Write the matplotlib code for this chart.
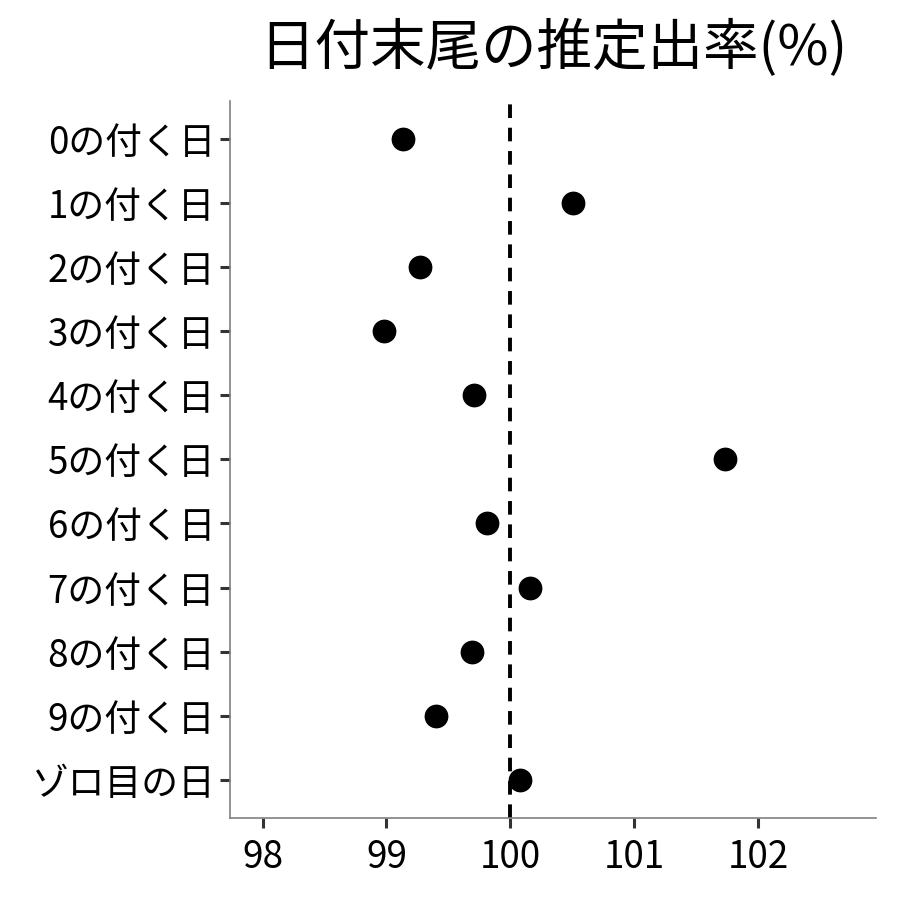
import matplotlib
matplotlib.use("Agg")
import matplotlib.pyplot as plt

plt.rcParams['font.family'] = ['Noto Sans CJK JP', 'DejaVu Sans']

# カテゴリと推定出率
categories = ['0の付く日', '1の付く日', '2の付く日', '3の付く日', '4の付く日',
              '5の付く日', '6の付く日', '7の付く日', '8の付く日', '9の付く日',
              'ゾロ目の日']
rates = [99.13, 100.51, 99.27, 98.98, 99.71, 101.73, 99.81, 100.16, 99.69, 99.40, 100.08]
xticks = [98, 99, 100, 101, 102]

fig, ax = plt.subplots(figsize=(9, 9), dpi=100)
fig.subplots_adjust(left=0.256, right=0.973, top=0.888, bottom=0.091)

ypos = list(range(len(categories)))[::-1]
ax.axvline(100, color='black', linestyle=(0, (3.5, 2.5)), linewidth=2.8, zorder=1)
ax.scatter(rates, ypos, s=260, color='black', zorder=2)

ax.set_xlim(97.74, 102.95)
ax.set_ylim(-0.6, len(categories) - 0.4)
ax.set_xticks(xticks)
ax.set_xticklabels([str(t) for t in xticks])
ax.set_yticks(ypos)
ax.set_yticklabels(categories)

for side in ['top', 'right']:
    ax.spines[side].set_visible(False)
for side in ['left', 'bottom']:
    ax.spines[side].set_color('#808080')
    ax.spines[side].set_linewidth(1.2)
ax.tick_params(axis='both', length=7, width=2.2, color='#333333',
               labelsize=26.5, labelcolor='black', pad=4)
ax.tick_params(axis='x', pad=7)

ax.set_title('日付末尾の推定出率(%)', fontsize=40, pad=26)

fig.savefig('out.png', dpi=100)
